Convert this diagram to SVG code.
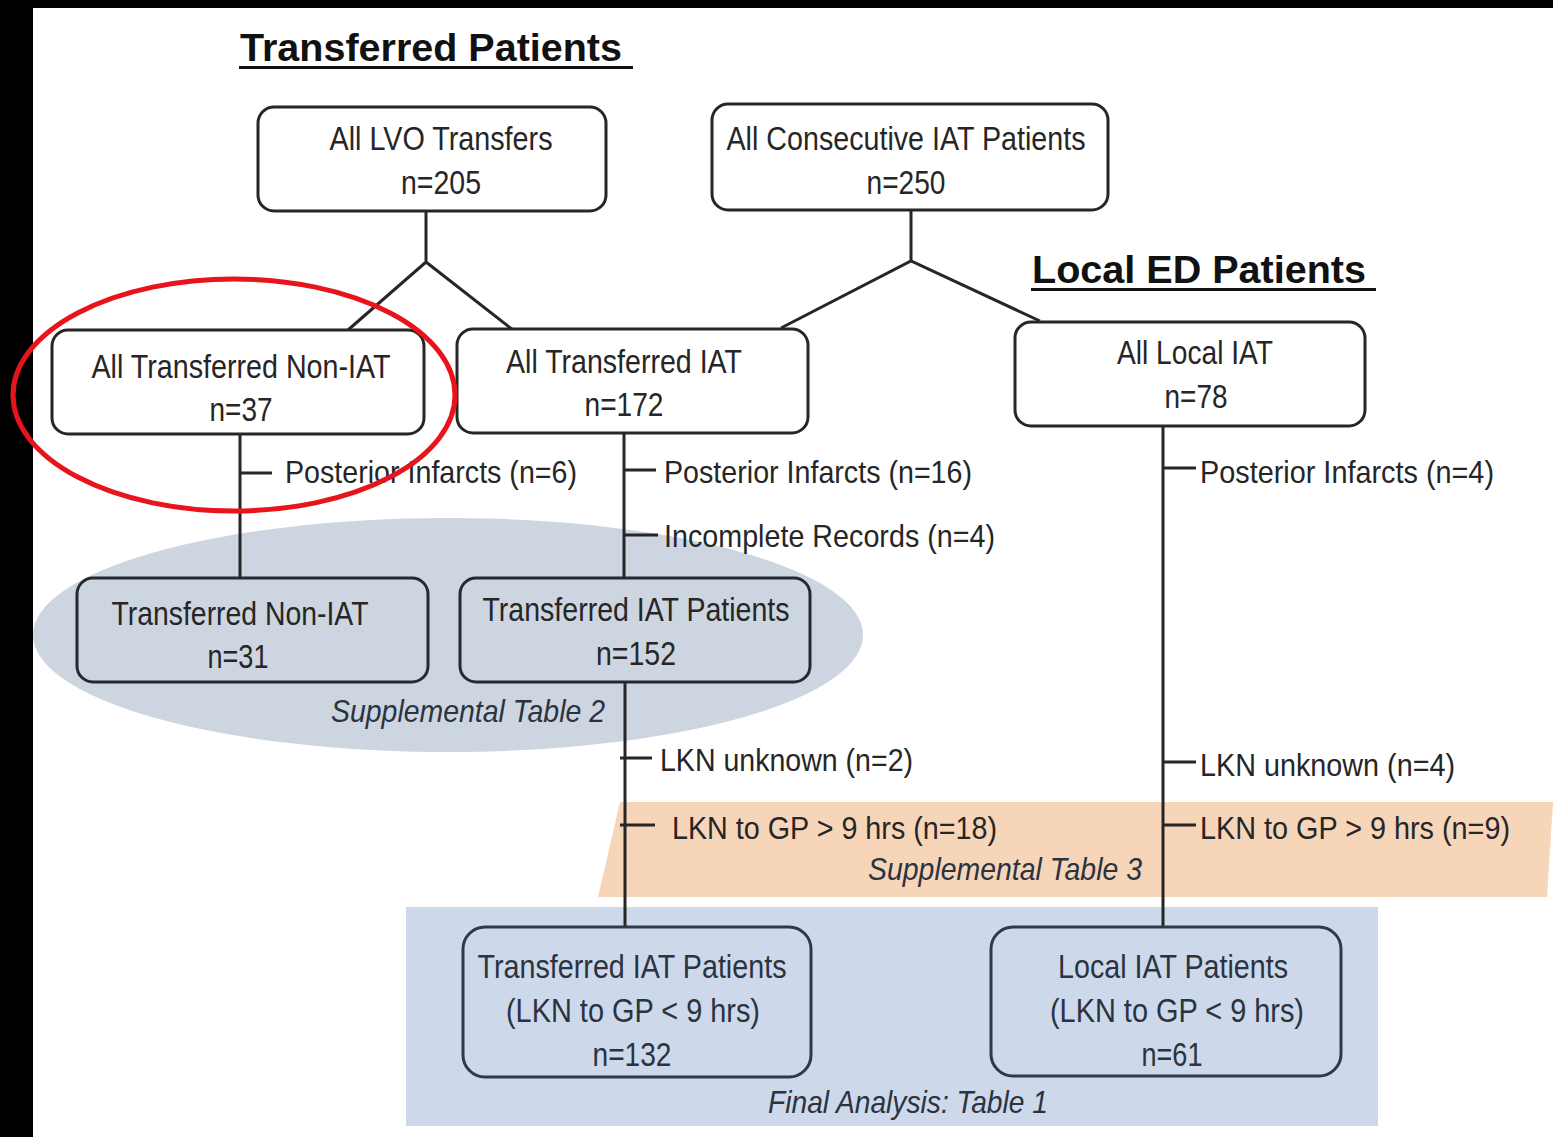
<svg xmlns="http://www.w3.org/2000/svg" width="1553" height="1137" viewBox="0 0 1553 1137">
<style>
text{font-family:"Liberation Sans",Arial,sans-serif;fill:#262626}
.bt{font-size:33px;text-anchor:middle}
.lb{font-size:32px}
.it{font-size:32px;font-style:italic;fill:#2b3340}
.hd{font-size:38px;font-weight:bold;fill:#111}
.box{fill:#fff;stroke:#262626;stroke-width:3}
.boxg{fill:#ccd5e0;stroke:#262a30;stroke-width:3}
.boxb{fill:#cdd9ea;stroke:#2d3a48;stroke-width:3}
.dk{fill:#2b3340}
.ln{stroke:#262626;stroke-width:3;fill:none}
</style>
<rect x="0" y="0" width="1553" height="1137" fill="#fff"/>
<rect x="0" y="0" width="33" height="1137" fill="#000"/>
<rect x="0" y="0" width="1553" height="8" fill="#000"/>

<g id="regions">
<ellipse cx="448" cy="635" rx="415" ry="117" fill="#ccd5e0"/>
<polygon points="620,802 1553,802 1547,897 598,897" fill="#f7d5b9"/>
<rect x="406" y="907" width="972" height="219" fill="#cdd9ea"/>
</g>

<g id="headings">
<text class="hd" x="240" y="61" textLength="382" lengthAdjust="spacingAndGlyphs">Transferred Patients</text>
<rect x="239" y="66" width="394" height="3" fill="#111"/>
<text class="hd" x="1032" y="283" textLength="334" lengthAdjust="spacingAndGlyphs">Local ED Patients</text>
<rect x="1031" y="288" width="345" height="3" fill="#111"/>
</g>

<g id="connectors">
<path class="ln" d="M426,212 V262 M348,330 L426,262 L513,330"/>
<path class="ln" d="M911,210 V261 M781,328 L911,261 L1040,321"/>
<path class="ln" d="M240,434 V578 M240,473 H272"/>
<path class="ln" d="M624,434 V578 M624,470 H656 M624,535 H658"/>
<path class="ln" d="M625,682 V927 M620,758 H652 M620,825 H655"/>
<path class="ln" d="M1163,426 V927 M1163,468 H1196 M1163,762 H1196 M1163,825 H1196"/>
</g>

<g id="n-all-lvo">
<rect class="box" x="258" y="107" width="348" height="104" rx="16"/>
<text class="bt" x="441" y="150" textLength="223" lengthAdjust="spacingAndGlyphs">All LVO Transfers</text>
<text class="bt" x="441" y="194" textLength="80" lengthAdjust="spacingAndGlyphs">n=205</text>
</g>
<g id="n-all-consecutive">
<rect class="box" x="712" y="104" width="396" height="106" rx="16"/>
<text class="bt" x="906" y="150" textLength="359" lengthAdjust="spacingAndGlyphs">All Consecutive IAT Patients</text>
<text class="bt" x="906" y="194" textLength="79" lengthAdjust="spacingAndGlyphs">n=250</text>
</g>
<g id="n-all-transferred-nonIAT">
<rect class="box" x="52" y="330" width="372" height="104" rx="16"/>
<text class="bt" x="241" y="378" textLength="299" lengthAdjust="spacingAndGlyphs">All Transferred Non-IAT</text>
<text class="bt" x="241" y="421" textLength="63" lengthAdjust="spacingAndGlyphs">n=37</text>
</g>
<g id="n-all-transferred-IAT">
<rect class="box" x="457" y="329" width="351" height="104" rx="16"/>
<text class="bt" x="624" y="373" textLength="236" lengthAdjust="spacingAndGlyphs">All Transferred IAT</text>
<text class="bt" x="624" y="416" textLength="79" lengthAdjust="spacingAndGlyphs">n=172</text>
</g>
<g id="n-all-local-IAT">
<rect class="box" x="1015" y="322" width="350" height="104" rx="16"/>
<text class="bt" x="1195" y="364" textLength="156" lengthAdjust="spacingAndGlyphs">All Local IAT</text>
<text class="bt" x="1196" y="408" textLength="63" lengthAdjust="spacingAndGlyphs">n=78</text>
</g>
<g id="n-transferred-nonIAT">
<rect class="boxg" x="77" y="578" width="351" height="104" rx="16"/>
<text class="bt" x="240" y="625" textLength="257" lengthAdjust="spacingAndGlyphs">Transferred Non-IAT</text>
<text class="bt" x="238" y="668" textLength="61" lengthAdjust="spacingAndGlyphs">n=31</text>
</g>
<g id="n-transferred-IAT-152">
<rect class="boxg" x="460" y="578" width="350" height="104" rx="16"/>
<text class="bt" x="636" y="621" textLength="307" lengthAdjust="spacingAndGlyphs">Transferred IAT Patients</text>
<text class="bt" x="636" y="665" textLength="80" lengthAdjust="spacingAndGlyphs">n=152</text>
</g>
<g id="n-transferred-IAT-132">
<rect class="boxb" x="463" y="927" width="348" height="150" rx="22"/>
<text class="bt dk" x="632" y="978" textLength="309" lengthAdjust="spacingAndGlyphs">Transferred IAT Patients</text>
<text class="bt dk" x="633" y="1022" textLength="254" lengthAdjust="spacingAndGlyphs">(LKN to GP &lt; 9 hrs)</text>
<text class="bt dk" x="632" y="1066" textLength="79" lengthAdjust="spacingAndGlyphs">n=132</text>
</g>
<g id="n-local-IAT-61">
<rect class="boxb" x="991" y="927" width="350" height="149" rx="22"/>
<text class="bt dk" x="1173" y="978" textLength="230" lengthAdjust="spacingAndGlyphs">Local IAT Patients</text>
<text class="bt dk" x="1177" y="1022" textLength="254" lengthAdjust="spacingAndGlyphs">(LKN to GP &lt; 9 hrs)</text>
<text class="bt dk" x="1172" y="1066" textLength="61" lengthAdjust="spacingAndGlyphs">n=61</text>
</g>

<g id="labels">
<text class="lb" x="285" y="483" textLength="292" lengthAdjust="spacingAndGlyphs">Posterior Infarcts (n=6)</text>
<text class="lb" x="664" y="483" textLength="308" lengthAdjust="spacingAndGlyphs">Posterior Infarcts (n=16)</text>
<text class="lb" x="664" y="547" textLength="331" lengthAdjust="spacingAndGlyphs">Incomplete Records (n=4)</text>
<text class="lb" x="660" y="771" textLength="253" lengthAdjust="spacingAndGlyphs">LKN unknown (n=2)</text>
<text class="lb" x="672" y="839" textLength="325" lengthAdjust="spacingAndGlyphs">LKN to GP &gt; 9 hrs (n=18)</text>
<text class="lb" x="1200" y="483" textLength="294" lengthAdjust="spacingAndGlyphs">Posterior Infarcts (n=4)</text>
<text class="lb" x="1200" y="776" textLength="255" lengthAdjust="spacingAndGlyphs">LKN unknown (n=4)</text>
<text class="lb" x="1200" y="839" textLength="310" lengthAdjust="spacingAndGlyphs">LKN to GP &gt; 9 hrs (n=9)</text>
<text class="it" x="331" y="722" textLength="274" lengthAdjust="spacingAndGlyphs">Supplemental Table 2</text>
<text class="it" x="868" y="880" textLength="274" lengthAdjust="spacingAndGlyphs">Supplemental Table 3</text>
<text class="it" x="768" y="1113" textLength="280" lengthAdjust="spacingAndGlyphs">Final Analysis: Table 1</text>
</g>

<g id="highlight">
<ellipse cx="234" cy="395" rx="221" ry="116" fill="none" stroke="#e8141b" stroke-width="5"/>
</g>
</svg>
